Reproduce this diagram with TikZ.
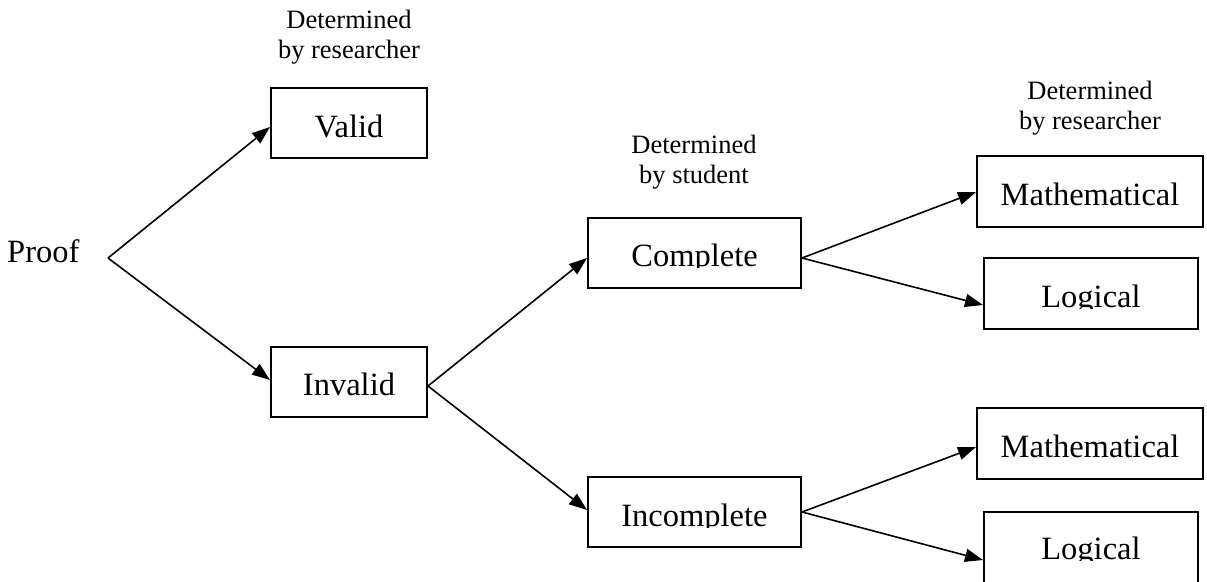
\documentclass[tikz,border=0pt]{standalone}
\usepackage{fontspec}
\setmainfont{Liberation Serif}
\usetikzlibrary{arrows.meta,calc}
\begin{document}
\begin{tikzpicture}[x=1pt,y=-1pt,
  boxs/.style={draw,line width=2pt,minimum height=70pt,inner sep=0pt},
  boxtext/.style={font=\fontsize{32.5}{39}\selectfont,anchor=base,inner sep=0pt},
  lbl/.style={font=\fontsize{26.5}{30}\selectfont,anchor=base,inner sep=0pt},
  conn/.style={line width=1.6pt,-{Triangle[length=18pt,width=13pt]}}]
\path[use as bounding box,clip] (0,0) rectangle (1207,581);

% boxes
\node[boxs,minimum width=156pt] (valid) at (349,123) {};
\node[boxs,minimum width=156pt] (invalid) at (349,382) {};
\node[boxs,minimum width=213pt] (complete) at (694.5,253) {};
\node[boxs,minimum width=213pt] (incomplete) at (694.5,512) {};
\node[boxs,minimum width=226pt,minimum height=71pt] (math1) at (1090,191.5) {};
\node[boxs,minimum width=214pt,minimum height=71pt] (logic1) at (1091,293.5) {};
\node[boxs,minimum width=226pt,minimum height=71pt] (math2) at (1090,443.5) {};
\node[boxs,minimum width=214pt,minimum height=71pt] (logic2) at (1091,547.5) {};

% box texts
\node[boxtext] (tvalid) at (349,137) {Valid};
\node[boxtext] (tinvalid) at (349,395) {Invalid};
\node[boxtext] (tmath1) at (1090,205) {Mathematical};
\node[boxtext] (tmath2) at (1090,457) {Mathematical};
\begin{scope}
\clip (588,219) rectangle (801,267.5);
\node[boxtext] (tcomplete) at (694.5,266) {Complete};
\end{scope}
\begin{scope}
\clip (984,259) rectangle (1198,308);
\node[boxtext] (tlogic1) at (1091,307) {Logical};
\end{scope}
\begin{scope}
\clip (588,478) rectangle (801,527);
\node[boxtext] (tincomplete) at (694.5,526) {Incomplete};
\end{scope}
\begin{scope}
\clip (984,513) rectangle (1198,560.5);
\node[boxtext] (tlogic2) at (1091,559) {Logical};
\end{scope}

% Proof
\node[boxtext,anchor=base west] (proof) at (7,262) {Proof};
\coordinate (apex) at (108,258);

% labels
\node[lbl] (la1) at (349,28) {Determined};
\node[lbl] (la2) at (349,58) {by researcher};
\node[lbl] (lb1) at (694,153) {Determined};
\node[lbl] (lb2) at (694,183) {by student};
\node[lbl] (lc1) at (1090,99) {Determined};
\node[lbl] (lc2) at (1090,129) {by researcher};

% connectors
\draw[conn] (apex) -- ($(valid.west)+(0,4)$);
\draw[conn] (apex) -- ($(invalid.west)+(0,-2)$);
\draw[conn] ($(invalid.east)+(0,4)$) -- ($(complete.west)+(0,5)$);
\draw[conn] ($(invalid.east)+(0,4)$) -- ($(incomplete.west)+(0,-2)$);
\draw[conn] ($(complete.east)+(0,5)$) -- ($(math1.west)+(0,0.5)$);
\draw[conn] ($(complete.east)+(0,5)$) -- ($(logic1.west)+(0,11.5)$);
\draw[conn] (incomplete.east) -- ($(math2.west)+(0,3.5)$);
\draw[conn] (incomplete.east) -- ($(logic2.west)+(0,12.5)$);
\end{tikzpicture}
\end{document}
